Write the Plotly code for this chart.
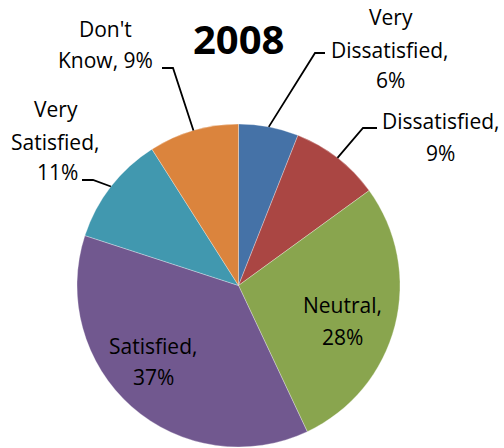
import math
import plotly.graph_objects as go

# ---- data ----
categories = ["Very Dissatisfied", "Dissatisfied", "Neutral", "Satisfied", "Very Satisfied", "Don't Know"]
values = [6, 9, 28, 37, 11, 9]
title_text = "2008"

# ---- styling / layout ----
colors = ["#4572A7", "#AA4643", "#89A54E", "#71588F", "#4198AF", "#DB843D"]
W, H = 504, 448
cx, cy, R = 238.5, 285.5, 161.5
FONT = "Open Sans"
LABEL_SIZE = 21

# words per line for each label
wrap = {
    "Very Dissatisfied": [1, 1, 1],
    "Dissatisfied": [1, 1],
    "Neutral": [1, 1],
    "Satisfied": [1, 1],
    "Very Satisfied": [1, 1, 1],
    "Don't Know": [1, 2],
}
# pixel centers of each label line
line_pos = {
    "Very Dissatisfied": [(391, 17), (389, 50), (390, 80)],
    "Dissatisfied": [(440, 121), (440, 153)],
    "Neutral": [(342, 305), (342, 337)],
    "Satisfied": [(153, 346), (153, 377)],
    "Very Satisfied": [(56, 109), (55, 142), (57, 172)],
    "Don't Know": [(105, 29), (105, 60)],
}
# leader line elbow and end (pixels)
leaders = {
    "Very Dissatisfied": [(315, 53), (325, 53)],
    "Dissatisfied": [(363, 128), (377, 128)],
    "Don't Know": [(173, 68), (162, 68)],
    "Very Satisfied": [(93, 180), (82, 180)],
}


def px(x):
    return x / W


def py(y):
    return 1 - y / H


fig = go.Figure(
    go.Pie(
        labels=categories,
        values=values,
        sort=False,
        direction="clockwise",
        rotation=0,
        marker=dict(colors=colors, line=dict(width=0.5, color="rgba(255,255,255,0.6)")),
        textinfo="none",
        hoverinfo="label+percent",
        showlegend=False,
        domain=dict(x=[px(cx - R), px(cx + R)], y=[py(cy + R), py(cy - R)]),
    )
)

total = sum(values)
annotations = []
shapes = []
cum = 0
for cat, v in zip(categories, values):
    pct = round(v / total * 100)
    words = f"{cat}, {pct}%".split()
    lines = []
    i = 0
    for n in wrap[cat]:
        lines.append(" ".join(words[i:i + n]))
        i += n
    for text, (x, y) in zip(lines, line_pos[cat]):
        annotations.append(dict(
            x=px(x), y=py(y), xref="paper", yref="paper", text=text,
            showarrow=False, xanchor="center", yanchor="middle",
            font=dict(family=FONT, size=LABEL_SIZE, color="black"),
        ))
    if cat in leaders:
        theta = 2 * math.pi * (cum + v / 2) / total
        sx = cx + R * math.sin(theta)
        sy = cy - R * math.cos(theta)
        pts = [(sx, sy)] + leaders[cat]
        path = "M " + " L ".join(f"{px(a):.5f},{py(b):.5f}" for a, b in pts)
        shapes.append(dict(type="path", path=path, xref="paper", yref="paper",
                           line=dict(color="black", width=1.8)))
    cum += v

annotations.append(dict(
    x=px(238), y=py(39), xref="paper", yref="paper", text=f"<b>{title_text}</b>",
    showarrow=False, xanchor="center", yanchor="middle",
    font=dict(family=FONT, size=40, color="black"),
))

fig.update_layout(
    width=W, height=H,
    margin=dict(l=0, r=0, t=0, b=0),
    paper_bgcolor="white", plot_bgcolor="white",
    annotations=annotations, shapes=shapes,
)

fig.write_html(
    "out.html",
    config={"displayModeBar": False},
    post_script="document.body.style.margin='0';document.body.style.overflow='hidden';",
)
